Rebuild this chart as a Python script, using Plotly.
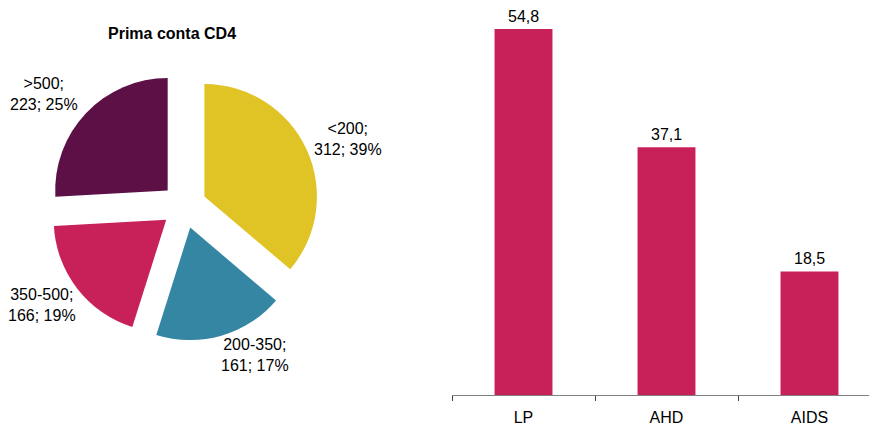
import plotly.graph_objects as go

# pie: prima conta CD4
cd4_classes = ["<200", "200-350", "350-500", ">500"]
cd4_counts = [312, 161, 166, 223]
cd4_pct_labels = ["39%", "17%", "19%", "25%"]
cd4_colors = ["#E0C325", "#3486A2", "#C8215A", "#5C1045"]

# bars
bar_categories = ["LP", "AHD", "AIDS"]
bar_values = [54.8, 37.1, 18.5]
bar_color = "#C8215A"

W, H = 877, 428
OFF = 8  # the page body adds an 8px margin, so shift everything back
FONT = "Liberation Sans, Arial, sans-serif"


def px(x):
    return (x - OFF) / W


def py(y):
    return 1 - (y - OFF) / H


fig = go.Figure()

fig.add_trace(
    go.Pie(
        labels=cd4_classes,
        values=cd4_counts,
        marker=dict(colors=cd4_colors, line=dict(width=0)),
        sort=False,
        direction="clockwise",
        rotation=0,
        pull=[0.2] * len(cd4_counts),
        textinfo="none",
        hoverinfo="label+value",
        domain=dict(x=[px(184 - 135), px(184 + 135)], y=[py(206 + 135), py(206 - 135)]),
        showlegend=False,
    )
)

fig.add_trace(
    go.Bar(
        x=bar_categories,
        y=bar_values,
        width=0.405,
        marker=dict(color=bar_color, line=dict(width=0)),
        showlegend=False,
        hovertemplate="%{x}: %{y}<extra></extra>",
    )
)

annotations = []

# pie title
annotations.append(dict(
    text="<b>Prima conta CD4</b>", x=px(172), y=py(33),
    xref="paper", yref="paper", xanchor="center", yanchor="middle", showarrow=False,
    font=dict(size=16, color="#000000", family=FONT),
))

# pie labels (placed by hand, like the original)
label_pos = {"<200": (348, 139), "200-350": (255, 355), "350-500": (42, 305), ">500": (44, 94)}
for cls, n, pct in zip(cd4_classes, cd4_counts, cd4_pct_labels):
    lx, ly = label_pos[cls]
    annotations.append(dict(
        text=f"{cls};<br>{n}; {pct}", x=px(lx), y=py(ly),
        xref="paper", yref="paper", xanchor="center", yanchor="middle",
        showarrow=False, align="center",
        font=dict(size=16, color="#000000", family=FONT),
    ))

# bar value labels
for cat, v in zip(bar_categories, bar_values):
    annotations.append(dict(
        text=f"{v:.1f}".replace(".", ","), x=cat, y=v,
        xref="x", yref="y", yanchor="bottom", yshift=2, showarrow=False,
        font=dict(size=16, color="#000000", family=FONT),
    ))

fig.update_layout(
    width=W,
    height=H,
    margin=dict(l=0, r=0, t=0, b=0, autoexpand=False),
    paper_bgcolor="white",
    plot_bgcolor="white",
    font=dict(family=FONT, size=16, color="#000000"),
    xaxis=dict(
        domain=[px(452), px(881)],
        range=[-0.5, 2.5],
        automargin=False,
        showline=True,
        linecolor="#808080",
        linewidth=1,
        ticks="outside",
        tickson="boundaries",
        ticklen=5,
        tickcolor="#404040",
        tickfont=dict(size=16, color="#000000", family=FONT),
        ticklabelstandoff=8,
        showgrid=False,
        zeroline=False,
        fixedrange=True,
    ),
    yaxis=dict(
        domain=[py(395), 1],
        range=[0, (395 - OFF) / 6.68],
        visible=False,
        automargin=False,
        showgrid=False,
        zeroline=False,
        fixedrange=True,
    ),
    annotations=annotations,
)

fig.write_html("out.html")
